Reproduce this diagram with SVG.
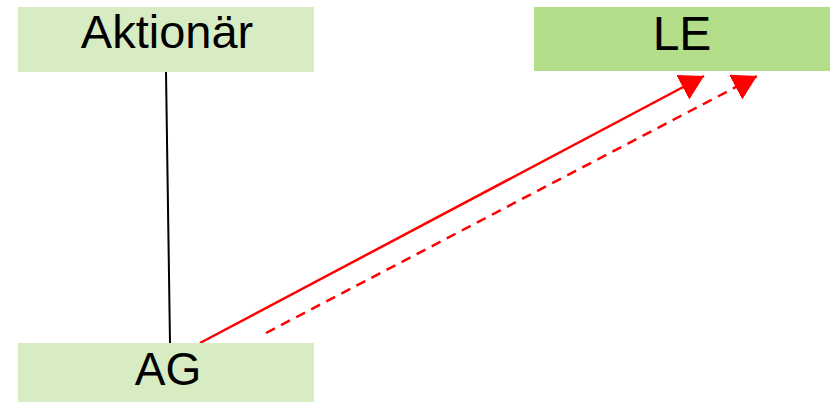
<svg xmlns="http://www.w3.org/2000/svg" width="832" height="402" viewBox="0 0 832 402">
<style>
.lbl{font-family:"Liberation Sans",Arial,sans-serif;fill:#000;text-anchor:middle}
.light{fill:#D8ECC4}
.dark{fill:#B4DD89}
.red{stroke:#FF0000;stroke-width:2.5;fill:none}
</style>
<defs>
<marker id="ah" markerWidth="24" markerHeight="28" refX="24" refY="14" orient="auto" markerUnits="userSpaceOnUse">
<path d="M0,0 L24,14 L0,28 Z" fill="#FF0000"/>
</marker>
</defs>
<rect width="832" height="402" fill="#fff"/>
<g id="connectors">
<line x1="166" y1="72" x2="170" y2="343" stroke="#000" stroke-width="2"/>
<line class="red" x1="200" y1="343" x2="704" y2="76" marker-end="url(#ah)"/>
<line class="red" x1="266" y1="333" x2="757" y2="76" stroke-dasharray="10,7" marker-end="url(#ah)"/>
</g>
<g id="aktionaer">
<rect class="light" x="18" y="7" width="296" height="65"/>
<text class="lbl" x="167" y="48" font-size="47">Aktionär</text>
</g>
<g id="le">
<rect class="dark" x="534" y="7" width="296" height="64"/>
<text class="lbl" x="682" y="50" font-size="48">LE</text>
</g>
<g id="ag">
<rect class="light" x="18" y="343" width="296" height="59"/>
<text class="lbl" x="168" y="385" font-size="46">AG</text>
</g>
</svg>
